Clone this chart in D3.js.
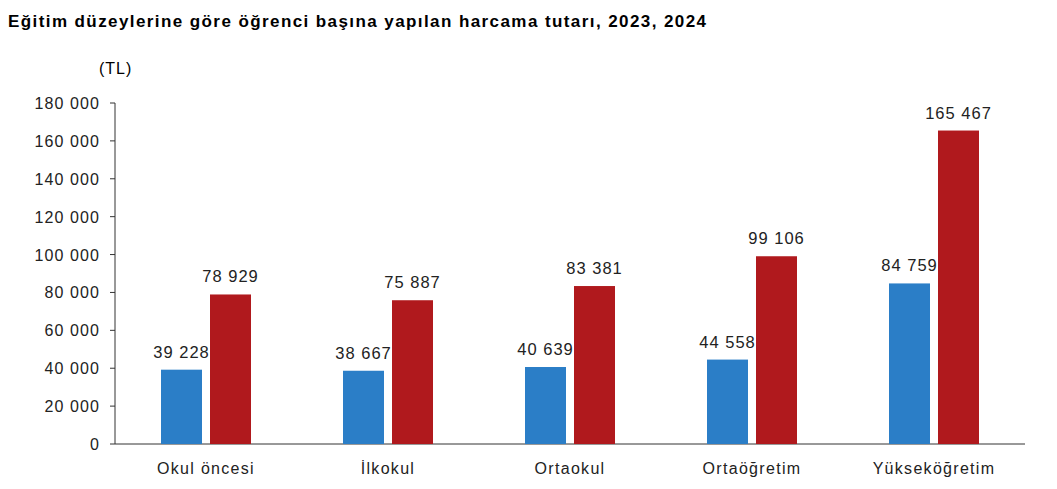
<!DOCTYPE html>
<html><head><meta charset="utf-8">
<script src="https://cdn.jsdelivr.net/npm/d3@7"></script>
<style>body{margin:0;background:#fff}text{font-family:"Liberation Sans",Arial,sans-serif}</style>
</head><body><div id="canvas"></div>
<script>
let svgWidth = 1057, svgHeight = 489;
let categories = ["Okul öncesi", "İlkokul", "Ortaokul", "Ortaöğretim", "Yükseköğretim"];
let values2023 = [39228, 38667, 40639, 44558, 84759];
let values2024 = [78929, 75887, 83381, 99106, 165467];
let yTicks = [0, 20000, 40000, 60000, 80000, 100000, 120000, 140000, 160000, 180000];

let fmt = v => d3.format(",")(v).replace(/,/g, " ");

let svg = d3.select("#canvas").append("svg")
    .attr("width", svgWidth).attr("height", svgHeight);

svg.append("text").attr("x", 8).attr("y", 27)
    .attr("font-size", 17).attr("font-weight", "bold")
    .attr("textLength", 698).attr("lengthAdjust", "spacing")
    .text("Eğitim düzeylerine göre öğrenci başına yapılan harcama tutarı, 2023, 2024");
svg.append("text").attr("x", 99).attr("y", 74).attr("font-size", 16)
    .attr("letter-spacing", 1).text("(TL)");

let x = d3.scaleBand().domain(categories).range([115, 1025]);
let y = d3.scaleLinear().domain([0, 180000]).range([444, 103]);

// y axis
svg.append("line").attr("x1", 115).attr("x2", 115).attr("y1", 103).attr("y2", 444).attr("stroke", "#333");
svg.selectAll(".yt").data(yTicks).enter().append("text")
    .attr("x", 100).attr("y", d => y(d) + 6).attr("text-anchor", "end")
    .attr("font-size", 16).attr("letter-spacing", 1.1).attr("fill", "#222").text(d => fmt(d));
svg.selectAll(".ytk").data(yTicks).enter().append("line")
    .attr("x1", 110).attr("x2", 115).attr("y1", d => y(d)).attr("y2", d => y(d)).attr("stroke", "#333");
// x axis
svg.append("line").attr("x1", 115).attr("x2", 1025).attr("y1", 444).attr("y2", 444).attr("stroke", "#333");
svg.selectAll(".xt").data(categories).enter().append("text")
    .attr("x", d => x(d) + x.bandwidth() / 2).attr("y", 474).attr("text-anchor", "middle")
    .attr("font-size", 16).attr("letter-spacing", 1.3).attr("fill", "#222").text(d => d);

let series = [
    { vals: values2023, color: "#2b7ec7", off: -45 },
    { vals: values2024, color: "#b0191d", off: 4 }
];
let bw = 41;
series.forEach(s => {
    svg.selectAll(null).data(categories).enter().append("rect")
        .attr("x", d => x(d) + x.bandwidth() / 2 + s.off)
        .attr("y", (d, i) => y(s.vals[i]))
        .attr("width", bw)
        .attr("height", (d, i) => 444 - y(s.vals[i]))
        .attr("fill", s.color);
    svg.selectAll(null).data(categories).enter().append("text")
        .attr("x", d => x(d) + x.bandwidth() / 2 + s.off + bw / 2)
        .attr("y", (d, i) => y(s.vals[i]) - 12)
        .attr("text-anchor", "middle").attr("font-size", 16.5).attr("letter-spacing", 1)
        .attr("fill", "#222")
        .text((d, i) => fmt(s.vals[i]));
});
</script></body></html>
